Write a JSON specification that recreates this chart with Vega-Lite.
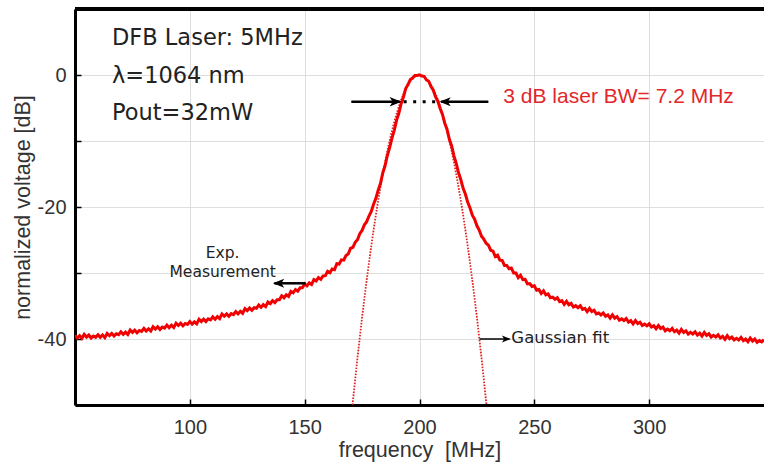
{
  "$schema": "https://vega.github.io/schema/vega-lite/v6.json",
  "width": 689,
  "height": 396,
  "autosize": {"type": "none"},
  "padding": {"left": 75, "top": 9, "right": 0, "bottom": 57},
  "background": "white",
  "config": {
    "view": {"stroke": null},
    "axis": {
      "labelFont": "Liberation Sans",
      "labelFontSize": 20,
      "labelColor": "#333333",
      "titleFont": "Liberation Sans",
      "titleFontSize": 21.5,
      "titleFontWeight": "normal",
      "titleColor": "#333333",
      "domainColor": "#000000",
      "domainWidth": 3,
      "tickColor": "#000000",
      "tickWidth": 1.5,
      "gridColor": "#dedede",
      "gridWidth": 1
    }
  },
  "datasets": {
    "meas": [
      {"f":50,"v":-39.45},{"f":51,"v":-39.85},{"f":52,"v":-39.5},{"f":53,"v":-39.9},{"f":54,"v":-39.3},{"f":55,"v":-39.7},{"f":56,"v":-39.4},{"f":57,"v":-39.85},{"f":58,"v":-39.55},{"f":59,"v":-39.75},
      {"f":60,"v":-39.35},{"f":61,"v":-39.75},{"f":62,"v":-39.4},{"f":63,"v":-39.8},{"f":64,"v":-39.15},{"f":65,"v":-39.5},{"f":66,"v":-39.15},{"f":67,"v":-39.55},{"f":68,"v":-39.2},{"f":69,"v":-39.35},
      {"f":70,"v":-38.9},{"f":71,"v":-39.3},{"f":72,"v":-38.95},{"f":73,"v":-39.3},{"f":74,"v":-38.65},{"f":75,"v":-39.0},{"f":76,"v":-38.65},{"f":77,"v":-39.05},{"f":78,"v":-38.7},{"f":79,"v":-38.85},
      {"f":80,"v":-38.4},{"f":81,"v":-38.8},{"f":82,"v":-38.45},{"f":83,"v":-38.8},{"f":84,"v":-38.15},{"f":85,"v":-38.5},{"f":86,"v":-38.15},{"f":87,"v":-38.55},{"f":88,"v":-38.2},{"f":89,"v":-38.35},
      {"f":90,"v":-37.9},{"f":91,"v":-38.3},{"f":92,"v":-37.9},{"f":93,"v":-38.25},{"f":94,"v":-37.6},{"f":95,"v":-37.95},{"f":96,"v":-37.6},{"f":97,"v":-38.0},{"f":98,"v":-37.65},{"f":99,"v":-37.8},
      {"f":100,"v":-37.35},{"f":101,"v":-37.75},{"f":102,"v":-37.4},{"f":103,"v":-37.7},{"f":104,"v":-37.0},{"f":105,"v":-37.35},{"f":106,"v":-37.0},{"f":107,"v":-37.35},{"f":108,"v":-36.95},{"f":109,"v":-37.1},
      {"f":110,"v":-36.65},{"f":111,"v":-37.0},{"f":112,"v":-36.6},{"f":113,"v":-36.9},{"f":114,"v":-36.2},{"f":115,"v":-36.55},{"f":116,"v":-36.2},{"f":117,"v":-36.55},{"f":118,"v":-36.15},{"f":119,"v":-36.3},
      {"f":120,"v":-35.85},{"f":121,"v":-36.2},{"f":122,"v":-35.8},{"f":123,"v":-36.1},{"f":124,"v":-35.4},{"f":125,"v":-35.7},{"f":126,"v":-35.3},{"f":127,"v":-35.65},{"f":128,"v":-35.25},{"f":129,"v":-35.35},
      {"f":130,"v":-34.85},{"f":131,"v":-35.2},{"f":132,"v":-34.8},{"f":133,"v":-35.1},{"f":134,"v":-34.4},{"f":135,"v":-34.65},{"f":136,"v":-34.2},{"f":137,"v":-34.5},{"f":138,"v":-34.05},{"f":139,"v":-34.05},
      {"f":140,"v":-33.45},{"f":141,"v":-33.75},{"f":142,"v":-33.3},{"f":143,"v":-33.55},{"f":144,"v":-32.8},{"f":145,"v":-33.0},{"f":146,"v":-32.5},{"f":147,"v":-32.75},{"f":148,"v":-32.25},{"f":149,"v":-32.25},
      {"f":150,"v":-31.65},{"f":151,"v":-31.95},{"f":152,"v":-31.5},{"f":153,"v":-31.75},{"f":154,"v":-31.0},{"f":155,"v":-31.2},{"f":156,"v":-30.7},{"f":157,"v":-30.95},{"f":158,"v":-30.45},{"f":159,"v":-30.4},
      {"f":160,"v":-29.75},{"f":161,"v":-29.95},{"f":162,"v":-29.4},{"f":163,"v":-29.5},{"f":164,"v":-28.6},{"f":165,"v":-28.65},{"f":166,"v":-28.0},{"f":167,"v":-28.05},{"f":168,"v":-27.35},{"f":169,"v":-27.1},
      {"f":170,"v":-26.25},{"f":171,"v":-26.1},{"f":172,"v":-25.35},{"f":173,"v":-24.95},{"f":174,"v":-24.05},{"f":175,"v":-23.55},{"f":176,"v":-22.7},{"f":177,"v":-22.22},{"f":178,"v":-21.37},{"f":179,"v":-20.68},
      {"f":180,"v":-19.58},{"f":181,"v":-18.7},{"f":182,"v":-17.45},{"f":183,"v":-16.45},{"f":184,"v":-14.85},{"f":185,"v":-13.75},{"f":186,"v":-12.2},{"f":187,"v":-11.02},{"f":188,"v":-9.57},{"f":189,"v":-8.38},
      {"f":190,"v":-6.88},{"f":191,"v":-5.8},{"f":192,"v":-4.35},{"f":193,"v":-3.35},{"f":194,"v":-2.05},{"f":195,"v":-1.45},{"f":196,"v":-0.7},{"f":197,"v":-0.47},{"f":198,"v":-0.07},{"f":199,"v":-0.08},
      {"f":200,"v":0.02},{"f":201,"v":-0.15},{"f":202,"v":-0.2},{"f":203,"v":-0.75},{"f":204,"v":-0.95},{"f":205,"v":-1.75},{"f":206,"v":-2.3},{"f":207,"v":-3.32},{"f":208,"v":-3.97},{"f":209,"v":-5.08},
      {"f":210,"v":-5.98},{"f":211,"v":-7.3},{"f":212,"v":-8.25},{"f":213,"v":-9.75},{"f":214,"v":-10.75},{"f":215,"v":-12.25},{"f":216,"v":-13.4},{"f":217,"v":-14.82},{"f":218,"v":-15.87},{"f":219,"v":-17.18},
      {"f":220,"v":-18.08},{"f":221,"v":-19.3},{"f":222,"v":-20.15},{"f":223,"v":-21.25},{"f":224,"v":-21.85},{"f":225,"v":-22.85},{"f":226,"v":-23.5},{"f":227,"v":-24.42},{"f":228,"v":-24.87},{"f":229,"v":-25.48},
      {"f":230,"v":-25.78},{"f":231,"v":-26.55},{"f":232,"v":-26.7},{"f":233,"v":-27.5},{"f":234,"v":-27.3},{"f":235,"v":-28.05},{"f":236,"v":-28.1},{"f":237,"v":-28.85},{"f":238,"v":-28.85},{"f":239,"v":-29.35},
      {"f":240,"v":-29.25},{"f":241,"v":-30.0},{"f":242,"v":-30.0},{"f":243,"v":-30.7},{"f":244,"v":-30.35},{"f":245,"v":-31.0},{"f":246,"v":-30.95},{"f":247,"v":-31.65},{"f":248,"v":-31.6},{"f":249,"v":-32.05},
      {"f":250,"v":-31.95},{"f":251,"v":-32.6},{"f":252,"v":-32.5},{"f":253,"v":-33.1},{"f":254,"v":-32.7},{"f":255,"v":-33.3},{"f":256,"v":-33.15},{"f":257,"v":-33.75},{"f":258,"v":-33.65},{"f":259,"v":-34.0},
      {"f":260,"v":-33.75},{"f":261,"v":-34.35},{"f":262,"v":-34.2},{"f":263,"v":-34.75},{"f":264,"v":-34.3},{"f":265,"v":-34.8},{"f":266,"v":-34.6},{"f":267,"v":-35.15},{"f":268,"v":-34.95},{"f":269,"v":-35.25},
      {"f":270,"v":-34.95},{"f":271,"v":-35.5},{"f":272,"v":-35.35},{"f":273,"v":-35.85},{"f":274,"v":-35.35},{"f":275,"v":-35.85},{"f":276,"v":-35.65},{"f":277,"v":-36.2},{"f":278,"v":-36.05},{"f":279,"v":-36.35},
      {"f":280,"v":-36.05},{"f":281,"v":-36.55},{"f":282,"v":-36.35},{"f":283,"v":-36.85},{"f":284,"v":-36.35},{"f":285,"v":-36.85},{"f":286,"v":-36.6},{"f":287,"v":-37.15},{"f":288,"v":-36.95},{"f":289,"v":-37.2},
      {"f":290,"v":-36.9},{"f":291,"v":-37.45},{"f":292,"v":-37.2},{"f":293,"v":-37.7},{"f":294,"v":-37.2},{"f":295,"v":-37.65},{"f":296,"v":-37.45},{"f":297,"v":-37.95},{"f":298,"v":-37.75},{"f":299,"v":-38.0},
      {"f":300,"v":-37.7},{"f":301,"v":-38.2},{"f":302,"v":-38.0},{"f":303,"v":-38.45},{"f":304,"v":-37.95},{"f":305,"v":-38.4},{"f":306,"v":-38.2},{"f":307,"v":-38.75},{"f":308,"v":-38.5},{"f":309,"v":-38.75},
      {"f":310,"v":-38.4},{"f":311,"v":-38.9},{"f":312,"v":-38.65},{"f":313,"v":-39.1},{"f":314,"v":-38.55},{"f":315,"v":-39.0},{"f":316,"v":-38.75},{"f":317,"v":-39.25},{"f":318,"v":-39.0},{"f":319,"v":-39.25},
      {"f":320,"v":-38.9},{"f":321,"v":-39.4},{"f":322,"v":-39.1},{"f":323,"v":-39.55},{"f":324,"v":-39.0},{"f":325,"v":-39.45},{"f":326,"v":-39.2},{"f":327,"v":-39.7},{"f":328,"v":-39.45},{"f":329,"v":-39.7},
      {"f":330,"v":-39.35},{"f":331,"v":-39.85},{"f":332,"v":-39.6},{"f":333,"v":-40.05},{"f":334,"v":-39.5},{"f":335,"v":-39.95},{"f":336,"v":-39.7},{"f":337,"v":-40.15},{"f":338,"v":-39.9},{"f":339,"v":-40.15},
      {"f":340,"v":-39.75},{"f":341,"v":-40.25},{"f":342,"v":-40.0},{"f":343,"v":-40.4},{"f":344,"v":-39.85},{"f":345,"v":-40.3},{"f":346,"v":-40.0},{"f":347,"v":-40.5},{"f":348,"v":-40.25},{"f":349,"v":-40.45},
      {"f":350,"v":-40.1}
    ],
    "gauss": [
      {"f":170.84,"v":-50.0},{"f":172,"v":-46.1},{"f":173,"v":-42.87},{"f":174,"v":-39.75},{"f":175,"v":-36.75},{"f":176,"v":-33.87},{"f":177,"v":-31.11},{"f":178,"v":-28.46},{"f":179,"v":-25.93},{"f":180,"v":-23.52},
      {"f":181,"v":-21.23},{"f":182,"v":-19.05},{"f":183,"v":-16.99},{"f":184,"v":-15.05},{"f":185,"v":-13.23},{"f":186,"v":-11.52},{"f":187,"v":-9.94},{"f":188,"v":-8.47},{"f":189,"v":-7.11},{"f":190,"v":-5.88},
      {"f":191,"v":-4.76},{"f":192,"v":-3.76},{"f":193,"v":-2.88},{"f":194,"v":-2.12},{"f":195,"v":-1.47},{"f":196,"v":-0.94},{"f":197,"v":-0.53},{"f":198,"v":-0.24},{"f":199,"v":-0.06},{"f":200,"v":0},
      {"f":201,"v":-0.06},{"f":202,"v":-0.24},{"f":203,"v":-0.53},{"f":204,"v":-0.94},{"f":205,"v":-1.47},{"f":206,"v":-2.12},{"f":207,"v":-2.88},{"f":208,"v":-3.76},{"f":209,"v":-4.76},{"f":210,"v":-5.88},
      {"f":211,"v":-7.11},{"f":212,"v":-8.47},{"f":213,"v":-9.94},{"f":214,"v":-11.52},{"f":215,"v":-13.23},{"f":216,"v":-15.05},{"f":217,"v":-16.99},{"f":218,"v":-19.05},{"f":219,"v":-21.23},{"f":220,"v":-23.52},
      {"f":221,"v":-25.93},{"f":222,"v":-28.46},{"f":223,"v":-31.11},{"f":224,"v":-33.87},{"f":225,"v":-36.75},{"f":226,"v":-39.75},{"f":227,"v":-42.87},{"f":228,"v":-46.1},{"f":229.16,"v":-50.0}
    ],
    "info": [
      {"f":66.1,"v":4.55,"t":"DFB Laser: 5MHz"},
      {"f":66.1,"v":-1.21,"t":"λ=1064 nm"},
      {"f":66.1,"v":-6.82,"t":"Pout=32mW"}
    ],
    "border": [
      {"f":50,"f2":350,"v":10}
    ],
    "shafts": [
      {"f":170.3,"f2":191.5,"v":-4.05},
      {"f":209.4,"f2":230.0,"v":-4.05},
      {"f":136.8,"f2":150.4,"v":-31.56}
    ],
    "gshaft": [
      {"f":226.1,"f2":239.0,"v":-40.0}
    ],
    "headsR": [
      {"f":192.2,"v":-4.05}
    ],
    "headsL": [
      {"f":208.7,"v":-4.05},
      {"f":136.2,"v":-31.56}
    ],
    "gheadR": [
      {"f":239.8,"v":-40.0}
    ],
    "dots": [
      {"f":193.1,"f2":208.0,"v":-4.05}
    ],
    "bwlabel": [
      {"f":236.5,"v":-4.24,"t":"3 dB laser BW= 7.2 MHz"}
    ],
    "explabel": [
      {"f":114.3,"v":-27.77,"t":"Exp."},
      {"f":114.3,"v":-30.56,"t":"Measurement"}
    ],
    "gausslabel": [
      {"f":240.0,"v":-40.65,"t":"Gaussian fit"}
    ]
  },
  "encoding": {
    "x": {
      "field": "f", "type": "quantitative",
      "scale": {"domain": [50, 350], "nice": false, "zero": false},
      "axis": {
        "title": "frequency\u00a0\u00a0[MHz]",
        "values": [100, 150, 200, 250, 300],
        "grid": true,
        "tickSize": -6,
        "labelPadding": 18,
        "titlePadding": 2,
        "labelFlush": false
      }
    },
    "y": {
      "field": "v", "type": "quantitative",
      "scale": {"domain": [-50, 10], "nice": false, "zero": false},
      "axis": {
        "title": "normalized voltage [dB]",
        "values": [-50, -40, -30, -20, -10, 0, 10],
        "labelExpr": "datum.value % 20 == 0 ? '' + datum.value : ''",
        "grid": true,
        "tickSize": -6,
        "labelPadding": 15,
        "titlePadding": 3
      }
    }
  },
  "layer": [
    {
      "data": {"name": "gauss"},
      "mark": {"type": "line", "color": "#dd2222", "strokeWidth": 1.8, "strokeDash": [1.6, 1.4], "clip": true}
    },
    {
      "data": {"name": "meas"},
      "mark": {"type": "line", "color": "#f00000", "strokeWidth": 3, "clip": true}
    },
    {
      "data": {"name": "border"},
      "mark": {"type": "rule", "color": "#000000", "strokeWidth": 4},
      "encoding": {"x2": {"field": "f2"}}
    },
    {
      "data": {"name": "shafts"},
      "mark": {"type": "rule", "color": "#000000", "strokeWidth": 2.5},
      "encoding": {"x2": {"field": "f2"}}
    },
    {
      "data": {"name": "gshaft"},
      "mark": {"type": "rule", "color": "#000000", "strokeWidth": 1.5},
      "encoding": {"x2": {"field": "f2"}}
    },
    {
      "data": {"name": "dots"},
      "mark": {"type": "rule", "color": "#000000", "strokeWidth": 3, "strokeDash": [3, 6.5]},
      "encoding": {"x2": {"field": "f2"}}
    },
    {
      "data": {"name": "headsR"},
      "mark": {"type": "point", "shape": "M0,0L-1,-0.4L-0.75,0L-1,0.4Z", "filled": true, "color": "#000000", "opacity": 1, "size": 576}
    },
    {
      "data": {"name": "headsL"},
      "mark": {"type": "point", "shape": "M0,0L1,-0.4L0.75,0L1,0.4Z", "filled": true, "color": "#000000", "opacity": 1, "size": 500}
    },
    {
      "data": {"name": "gheadR"},
      "mark": {"type": "point", "shape": "M0,0L-1,-0.4L-0.75,0L-1,0.4Z", "filled": true, "color": "#000000", "opacity": 1, "size": 324}
    },
    {
      "data": {"name": "info"},
      "mark": {"type": "text", "align": "left", "baseline": "alphabetic", "font": "DejaVu Sans", "fontSize": 22.5, "color": "#222222"},
      "encoding": {"text": {"field": "t"}}
    },
    {
      "data": {"name": "bwlabel"},
      "mark": {"type": "text", "align": "left", "baseline": "alphabetic", "font": "Liberation Sans", "fontSize": 21, "color": "#e3262b"},
      "encoding": {"text": {"field": "t"}}
    },
    {
      "data": {"name": "explabel"},
      "mark": {"type": "text", "align": "center", "baseline": "alphabetic", "font": "DejaVu Sans", "fontSize": 15.5, "color": "#222222"},
      "encoding": {"text": {"field": "t"}}
    },
    {
      "data": {"name": "gausslabel"},
      "mark": {"type": "text", "align": "left", "baseline": "alphabetic", "font": "DejaVu Sans", "fontSize": 16.5, "color": "#222222"},
      "encoding": {"text": {"field": "t"}}
    }
  ]
}
